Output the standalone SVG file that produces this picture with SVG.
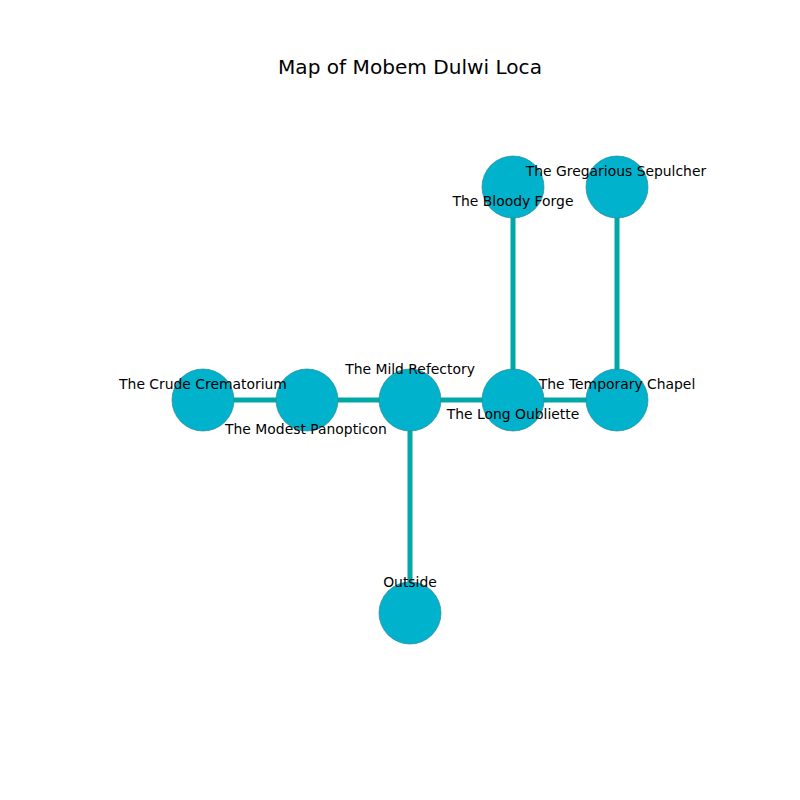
<svg xmlns="http://www.w3.org/2000/svg" width="800" height="800" viewBox="0 0 800 800">
<style>
.edge{stroke:#00a8a8;stroke-width:5;fill:none}
.node circle{fill:#00b2cc;stroke:#2a8a9a;stroke-width:0.7}
.lbl{font-family:"DejaVu Sans",sans-serif;font-size:13.9px;fill:#000;text-anchor:middle;dominant-baseline:central}
.title{font-family:"DejaVu Sans",sans-serif;font-size:20.1px;fill:#000;text-anchor:middle;dominant-baseline:central}
</style>
<rect width="800" height="800" fill="#fff"/>
<text class="title" x="410" y="67">Map of Mobem Dulwi Loca</text>
<g id="connectors">
<line class="edge" x1="203" y1="400" x2="307" y2="400"/>
<line class="edge" x1="307" y1="400" x2="410" y2="400"/>
<line class="edge" x1="410" y1="400" x2="513" y2="400"/>
<line class="edge" x1="513" y1="400" x2="617" y2="400"/>
<line class="edge" x1="410" y1="400" x2="410" y2="613"/>
<line class="edge" x1="513" y1="187" x2="513" y2="400"/>
<line class="edge" x1="617" y1="187" x2="617" y2="400"/>
</g>
<g id="n-crude" class="node"><circle cx="203" cy="400" r="31"/></g>
<g id="n-modest" class="node"><circle cx="307" cy="400" r="31"/></g>
<g id="n-mild" class="node"><circle cx="410" cy="400" r="31"/></g>
<g id="n-long" class="node"><circle cx="513" cy="400" r="31"/></g>
<g id="n-temporary" class="node"><circle cx="617" cy="400" r="31"/></g>
<g id="n-bloody" class="node"><circle cx="513" cy="187" r="31"/></g>
<g id="n-gregarious" class="node"><circle cx="617" cy="187" r="31"/></g>
<g id="n-outside" class="node"><circle cx="410" cy="613" r="31"/></g>
<g id="labels">
<text class="lbl" x="203" y="384">The Crude Crematorium</text>
<text class="lbl" x="306" y="429">The Modest Panopticon</text>
<text class="lbl" x="410" y="369">The Mild Refectory</text>
<text class="lbl" x="513" y="414">The Long Oubliette</text>
<text class="lbl" x="617" y="384">The Temporary Chapel</text>
<text class="lbl" x="513" y="201">The Bloody Forge</text>
<text class="lbl" x="616" y="171">The Gregarious Sepulcher</text>
<text class="lbl" x="410" y="582">Outside</text>
</g>
</svg>
